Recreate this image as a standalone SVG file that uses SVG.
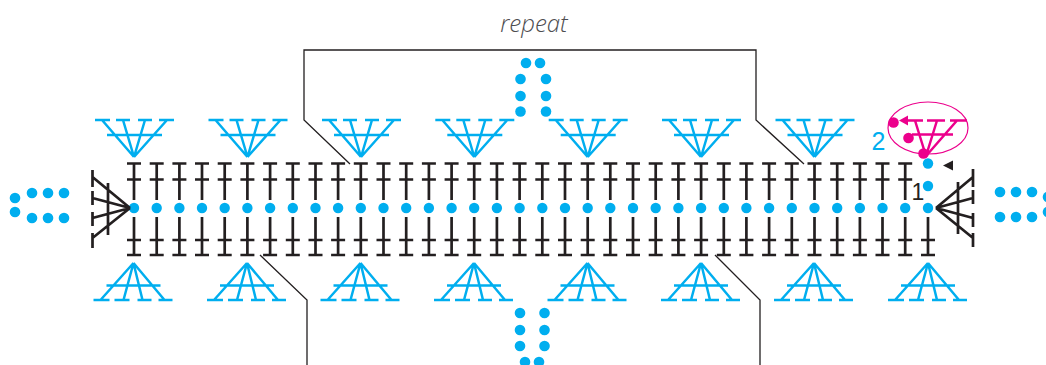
<svg xmlns="http://www.w3.org/2000/svg" width="1046" height="365" viewBox="0 0 1046 365">
<style>
.k{stroke:#231f20;stroke-width:2.7;fill:none}
.b{stroke:#00aeef;stroke-width:2.5;fill:none}
.p{stroke:#ec008c;stroke-width:2.5;fill:none}
.d{fill:#00aeef}
.c{stroke:#231f20;stroke-width:1.3;fill:none}
</style>
<defs>
<path id="up" class="k" d="M0 163.500V200M-7 163.500H7M-7 179.500H7"/>
<path id="dn" class="k" d="M0 217V255M-7 240H7M-7 255H7"/>
<path id="ft" class="b" d="M-39 120H-24M-18 120H-4M4 120H18M25 120H40M-27 135H28M0 157L-32 120M0 157L-11 120M0 157L11 120M0 157L33 120"/>
<path id="fb" class="b" d="M-40 300H-24M-19 300H-4M4 300H18M25 300H39M-27 285.500H27M0 263L-33 300M0 263L-10 300M0 263L9 300M0 263L31 300"/>
<circle id="o" class="d" r="5.200"/>
</defs>
<g id="stitches-top">
<use href="#up" x="134"/><use href="#up" x="156.700"/><use href="#up" x="179.400"/><use href="#up" x="202"/><use href="#up" x="224.700"/><use href="#up" x="247.400"/><use href="#up" x="270.100"/><use href="#up" x="292.800"/><use href="#up" x="315.500"/><use href="#up" x="338.100"/><use href="#up" x="360.800"/><use href="#up" x="383.500"/><use href="#up" x="406.200"/><use href="#up" x="428.900"/><use href="#up" x="451.600"/><use href="#up" x="474.200"/><use href="#up" x="496.900"/><use href="#up" x="519.600"/><use href="#up" x="542.300"/><use href="#up" x="565"/><use href="#up" x="587.700"/><use href="#up" x="610.300"/><use href="#up" x="633"/><use href="#up" x="655.700"/><use href="#up" x="678.400"/><use href="#up" x="701.100"/><use href="#up" x="723.800"/><use href="#up" x="746.400"/><use href="#up" x="769.100"/><use href="#up" x="791.800"/><use href="#up" x="814.500"/><use href="#up" x="837.200"/><use href="#up" x="859.900"/><use href="#up" x="882.500"/><use href="#up" x="905.200"/>
</g>
<g id="stitches-bottom">
<use href="#dn" x="134"/><use href="#dn" x="156.700"/><use href="#dn" x="179.400"/><use href="#dn" x="202"/><use href="#dn" x="224.700"/><use href="#dn" x="247.400"/><use href="#dn" x="270.100"/><use href="#dn" x="292.800"/><use href="#dn" x="315.500"/><use href="#dn" x="338.100"/><use href="#dn" x="360.800"/><use href="#dn" x="383.500"/><use href="#dn" x="406.200"/><use href="#dn" x="428.900"/><use href="#dn" x="451.600"/><use href="#dn" x="474.200"/><use href="#dn" x="496.900"/><use href="#dn" x="519.600"/><use href="#dn" x="542.300"/><use href="#dn" x="565"/><use href="#dn" x="587.700"/><use href="#dn" x="610.300"/><use href="#dn" x="633"/><use href="#dn" x="655.700"/><use href="#dn" x="678.400"/><use href="#dn" x="701.100"/><use href="#dn" x="723.800"/><use href="#dn" x="746.400"/><use href="#dn" x="769.100"/><use href="#dn" x="791.800"/><use href="#dn" x="814.500"/><use href="#dn" x="837.200"/><use href="#dn" x="859.900"/><use href="#dn" x="882.500"/><use href="#dn" x="905.200"/><use href="#dn" x="928"/>
</g>
<g id="chain-dots">
<use href="#o" x="134" y="208"/><use href="#o" x="156.700" y="208"/><use href="#o" x="179.400" y="208"/><use href="#o" x="202" y="208"/><use href="#o" x="224.700" y="208"/><use href="#o" x="247.400" y="208"/><use href="#o" x="270.100" y="208"/><use href="#o" x="292.800" y="208"/><use href="#o" x="315.500" y="208"/><use href="#o" x="338.100" y="208"/><use href="#o" x="360.800" y="208"/><use href="#o" x="383.500" y="208"/><use href="#o" x="406.200" y="208"/><use href="#o" x="428.900" y="208"/><use href="#o" x="451.600" y="208"/><use href="#o" x="474.200" y="208"/><use href="#o" x="496.900" y="208"/><use href="#o" x="519.600" y="208"/><use href="#o" x="542.300" y="208"/><use href="#o" x="565" y="208"/><use href="#o" x="587.700" y="208"/><use href="#o" x="610.300" y="208"/><use href="#o" x="633" y="208"/><use href="#o" x="655.700" y="208"/><use href="#o" x="678.400" y="208"/><use href="#o" x="701.100" y="208"/><use href="#o" x="723.800" y="208"/><use href="#o" x="746.400" y="208"/><use href="#o" x="769.100" y="208"/><use href="#o" x="791.800" y="208"/><use href="#o" x="814.500" y="208"/><use href="#o" x="837.200" y="208"/><use href="#o" x="859.900" y="208"/><use href="#o" x="882.500" y="208"/><use href="#o" x="905.200" y="208"/><use href="#o" x="928" y="208"/><use href="#o" x="928" y="186"/><use href="#o" x="928" y="163.500"/>
</g>
<g id="fans-top">
<use href="#ft" x="134"/><use href="#ft" x="247.500"/><use href="#ft" x="361"/><use href="#ft" x="474.300"/><use href="#ft" x="587.700"/><use href="#ft" x="701"/><use href="#ft" x="814.500"/>
</g>
<g id="fans-bottom">
<use href="#fb" x="133.500"/><use href="#fb" x="247"/><use href="#fb" x="360.500"/><use href="#fb" x="474"/><use href="#fb" x="587.500"/><use href="#fb" x="701"/><use href="#fb" x="814"/><use href="#fb" x="928"/>
</g>
<g id="fan-left">
<path class="k" d="M92.500 170V187M92.500 191V205M92.500 212V226M92.500 233V248M108 183V235M130 208L92.500 177M130 208L92.500 198M130 208L92.500 218M130 208L92.500 238"/>
</g>
<g id="fan-right">
<path class="k" d="M973 169V187M973 190V204M973 213V227M973 233V247M958 182V234M936 208L973 177M936 208L973 198M936 208L973 218M936 208L973 238"/>
</g>
<g id="dots-left" class="d">
<circle cx="15" cy="198" r="5.300"/><circle cx="15" cy="212" r="5.300"/><circle cx="32" cy="193" r="5.300"/><circle cx="48" cy="193" r="5.300"/><circle cx="64" cy="193" r="5.300"/><circle cx="32" cy="218" r="5.300"/><circle cx="48" cy="218" r="5.300"/><circle cx="64" cy="218" r="5.300"/>
</g>
<g id="dots-right" class="d">
<circle cx="1000" cy="192" r="5.300"/><circle cx="1016" cy="192" r="5.300"/><circle cx="1032" cy="192" r="5.300"/><circle cx="1048" cy="197" r="5.300"/><circle cx="1000" cy="217" r="5.300"/><circle cx="1016" cy="217" r="5.300"/><circle cx="1032" cy="217" r="5.300"/><circle cx="1048" cy="212" r="5.300"/>
</g>
<g id="dots-top" class="d">
<circle cx="526" cy="63" r="5.300"/><circle cx="540" cy="63" r="5.300"/><circle cx="520.500" cy="79" r="5.300"/><circle cx="546" cy="79" r="5.300"/><circle cx="520.500" cy="96" r="5.300"/><circle cx="546" cy="96" r="5.300"/><circle cx="520.500" cy="111.500" r="5.300"/><circle cx="546" cy="111.500" r="5.300"/>
</g>
<g id="dots-bottom" class="d">
<circle cx="520" cy="313" r="5.300"/><circle cx="544.500" cy="313" r="5.300"/><circle cx="520" cy="330" r="5.300"/><circle cx="544.500" cy="330" r="5.300"/><circle cx="520" cy="346" r="5.300"/><circle cx="544.500" cy="346" r="5.300"/><circle cx="525" cy="362" r="5.300"/><circle cx="539" cy="362" r="5.300"/>
</g>
<g id="pink-fan">
<ellipse cx="928" cy="128" rx="40" ry="26" fill="none" stroke="#ec008c" stroke-width="1.200"/>
<path class="p" d="M906 120.500H923M927 120.500H945M950 120.500H967M912 134.500H953M926 156L915 120.500M926 156L937 120.500M926 156L957 120.500"/>
<path fill="#ec008c" d="M899 120.500L908 115.500V125.500Z"/>
<circle cx="893.500" cy="122.500" r="5.300" fill="#ec008c"/><circle cx="908.500" cy="138" r="5.300" fill="#ec008c"/><circle cx="923.500" cy="153.500" r="5.300" fill="#ec008c"/>
</g>
<g id="start-marker"><path fill="#231f20" d="M943 165.500L953 160.500V170.500Z"/></g>
<g id="connectors">
<path class="c" d="M350 164L304 120V50H756V120L804 164"/>
<path class="c" d="M260 255L307 300V365M715 255L760 300V365"/>
</g>
<g id="labels">
<text x="534" y="32" text-anchor="middle" font-size="24" font-style="italic" font-weight="300" font-family="'Open Sans', sans-serif" fill="#4d4d4f">repeat</text>
<text x="878.500" y="150" text-anchor="middle" font-size="25" font-family="'Liberation Sans', sans-serif" fill="#00aeef">2</text>
<text x="918" y="200" text-anchor="middle" font-size="23" font-family="'Liberation Sans', sans-serif" fill="#231f20">1</text>
</g>
</svg>
